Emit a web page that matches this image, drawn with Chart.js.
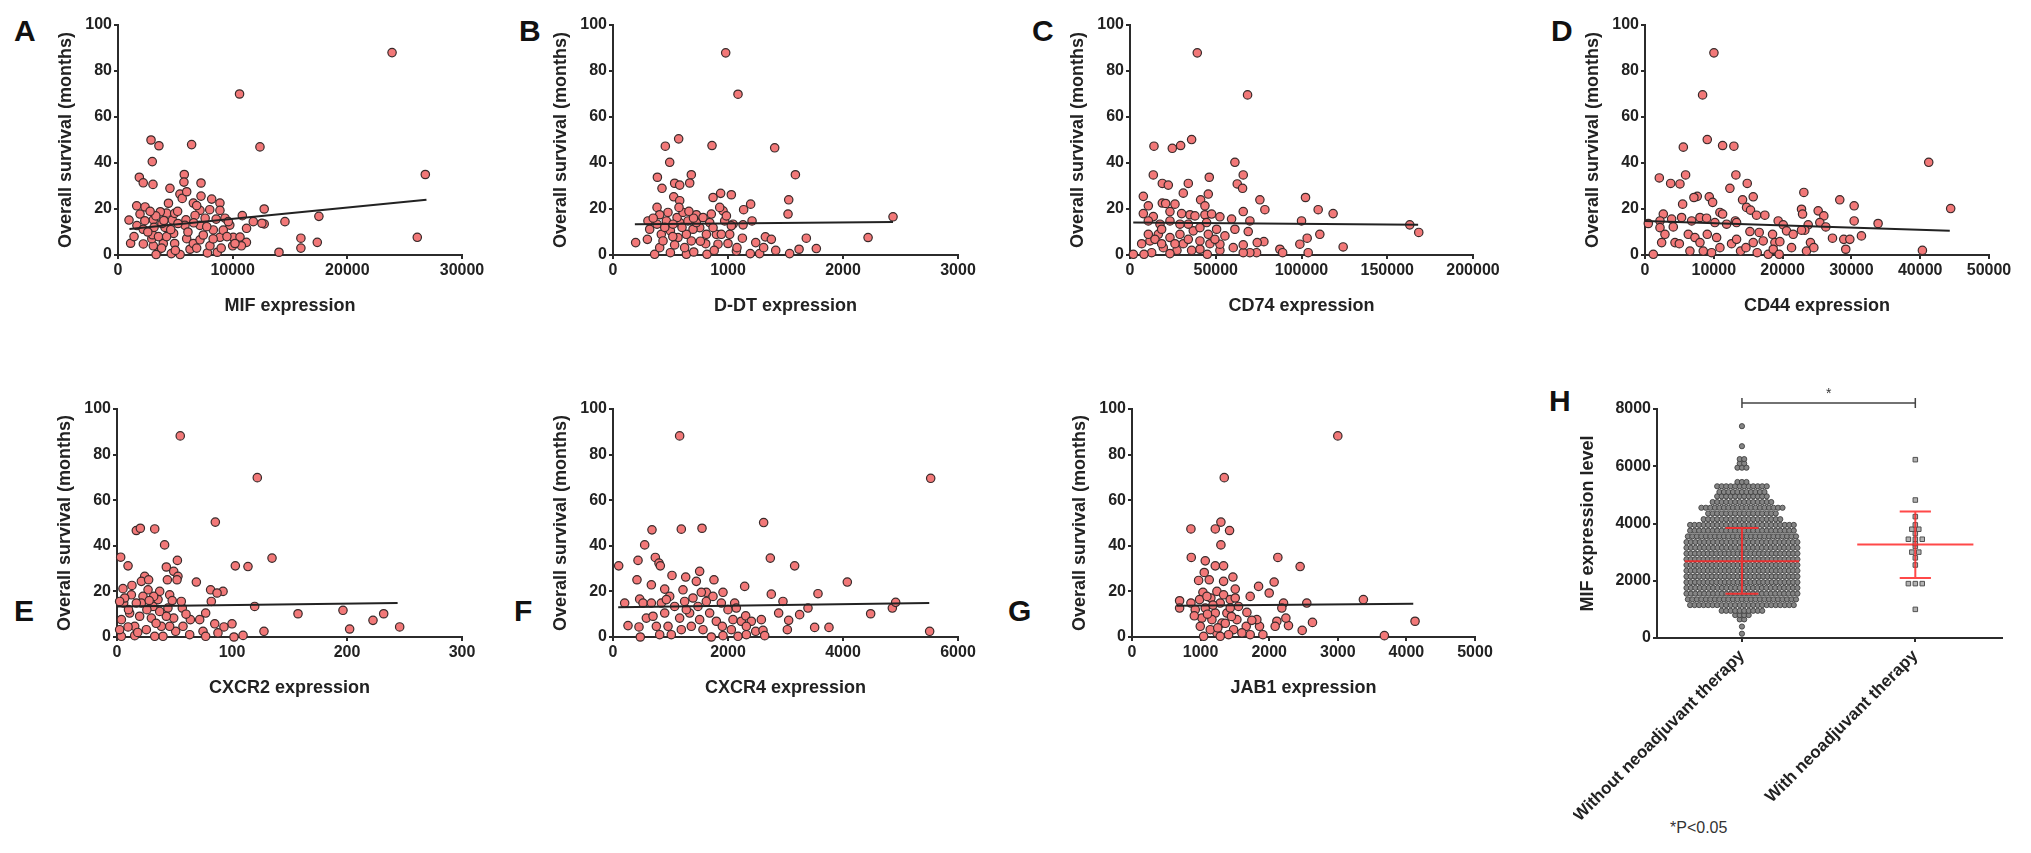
<!DOCTYPE html>
<html>
<head>
<meta charset="utf-8">
<script src="https://cdn.jsdelivr.net/npm/chart.js@4.4.0/dist/chart.umd.min.js"></script>
<style>
  html, body { margin: 0; padding: 0; background: #fff; }
  body { width: 2031px; height: 853px; position: relative; overflow: hidden; font-family: "Liberation Sans", Arial, sans-serif; }
  .panel { position: absolute; }
  .letter { position: absolute; font-weight: bold; font-size: 30px; line-height: 30px; color: #111; }
  .note { position: absolute; font-size: 16px; line-height: 16px; color: #333; }
</style>
</head>
<body>
<div class="letter" style="left:14px;top:16px">A</div>
<div class="letter" style="left:519px;top:16px">B</div>
<div class="letter" style="left:1032px;top:16px">C</div>
<div class="letter" style="left:1551px;top:16px">D</div>
<div class="letter" style="left:14px;top:596px">E</div>
<div class="letter" style="left:514px;top:596px">F</div>
<div class="letter" style="left:1008px;top:596px">G</div>
<div class="letter" style="left:1549px;top:386px">H</div>
<div class="note" style="left:1670px;top:820px">*P&lt;0.05</div>

<div class="panel" id="pA"><canvas id="cA"></canvas></div>
<div class="panel" id="pB"><canvas id="cB"></canvas></div>
<div class="panel" id="pC"><canvas id="cC"></canvas></div>
<div class="panel" id="pD"><canvas id="cD"></canvas></div>
<div class="panel" id="pE"><canvas id="cE"></canvas></div>
<div class="panel" id="pF"><canvas id="cF"></canvas></div>
<div class="panel" id="pG"><canvas id="cG"></canvas></div>
<div class="panel" id="pH"><canvas id="cH"></canvas></div>

<script>
// ---- data ----
// survival (months) against expression, one [x, y] per patient
const mifPoints = [[23900,88],[10600,70],[2880,50],[3570,47.5],[6420,48],[12380,47],[2990,40.6],[1860,33.8],[2200,31.4],[3050,30.7],
  [5780,35],[5750,31.7],[4530,29],[7240,31.3],[5400,26.5],[5600,24.6],[7240,25.6],[8170,24.3],[8890,22.6],[6570,22.6],
  [8000,19.7],[12750,20],[17520,16.8],[14560,14.5],[1630,21.4],[2360,20.9],[960,15.2],[10840,17.1],[11800,14.5],[12750,13.5],
  [9750,13],[26800,35],[26100,7.7],[15950,7.3],[15950,3],[14040,1.2],[17380,5.5],[12550,13.8],[10050,7.7],[10640,7.8],
  [11200,5.5],[10760,4],[10000,4],[8890,19.4],[8890,7.7],[8660,1.2],[7800,0.9],[8020,4],[8310,10.9],[8560,15.6],
  [7150,19.4],[7150,12.9],[6720,17.2],[6860,21.5],[5990,27.5],[5930,15.3],[5840,12.9],[5990,7.1],[6280,2.5],[5420,0.2],
  [4940,5],[4650,0.6],[4850,9.4],[4740,15.2],[4240,18.2],[4100,12],[3950,5],[3530,2.2],[3320,0.2],[3080,4],
  [2950,7.1],[3020,8.8],[3080,15.3],[3140,12],[2210,4.8],[1920,17.8],[2340,14.9],[1650,12.8],[1100,5.1],[4400,22.5],
  [4940,18.1],[5230,13.7],[3690,18.8],[3830,13.7],[2200,11.2],[3530,8],[4240,8],[6570,5],[7150,6.6],[6860,3],
  [7440,8.7],[7740,12.3],[9330,16],[9620,14.5],[9180,10.8],[10200,5],[11210,11.6],[2600,10],[3300,17],[4600,11],
  [5200,19],[6100,10],[6600,14],[7600,16],[8300,7],[9000,3],[9500,8],[4000,15],[2800,19],[1400,8],[3800,3],[5000,2]];
const ddtPoints = [[980,87.9],[1087,69.9],[571,50.5],[455,47.3],[861,47.6],[1406,46.6],[493,40.3],[386,33.8],[1586,34.9],[681,34.9],
  [667,31.3],[536,31.2],[580,30.4],[426,29],[870,25],[936,26.8],[1029,26.2],[528,25.3],[580,23.6],[1528,24],
  [1197,22.1],[1136,19.7],[383,20.7],[1522,17.8],[2435,16.6],[957,19.2],[928,20.7],[1209,14.8],[725,17.5],[197,5.4],
  [304,14.8],[319,11.2],[299,6.8],[362,0.3],[406,3.2],[499,1],[638,0.3],[817,0.3],[702,1.3],[1073,1.7],
  [1194,0.6],[1275,0.6],[1415,2],[1536,0.6],[1618,2.5],[1768,2.8],[1681,7.3],[2218,7.6],[1325,7.9],[1377,6.8],
  [1241,5.4],[1125,7.3],[1015,9],[1078,3.2],[1310,3.2],[1131,13.1],[1044,13.4],[899,9],[913,4.7],[806,4.9],
  [812,9],[754,11.9],[696,11.2],[681,6.1],[623,3.2],[638,9],[565,7.6],[536,4.4],[499,10.5],[464,14.8],
  [478,18.5],[406,17.5],[383,13.4],[420,9],[435,6.1],[580,14.1],[557,16.3],[609,18.5],[574,20.7],[652,14.8],
  [725,14.1],[841,14.1],[855,17.8],[971,14.8],[1029,12.7],[942,9],[870,11.9],[783,16.3],[986,17],[522,13.4],
  [450,12],[700,16],[760,6],[880,2],[600,12],[350,16],[1000,5],[520,8],[660,19]];
const cd74Points = [[39230,87.9],[68550,69.6],[35930,50.2],[13980,47.3],[24660,46.4],[29520,47.6],[61170,40.3],[13590,34.8],[46220,33.8],[66030,34.8],
  [62540,30.9],[65640,29],[18840,31.1],[22330,30.4],[33990,31.1],[31070,26.9],[45640,26.5],[7770,25.5],[75740,24],[102340,25],
  [41170,24],[43690,21.4],[18840,22.6],[20780,22.4],[26220,22.1],[10680,21.4],[78650,19.7],[109720,19.7],[118430,18],[66030,18.9],
  [23300,18.9],[7770,18],[13590,16.7],[34950,17.5],[30100,18],[43690,17.5],[52430,16.6],[59230,15.6],[69910,14.8],[100010,14.8],
  [163130,13.1],[168370,9.8],[110690,9],[103310,7.3],[99040,4.7],[124290,3.5],[103890,1],[87390,2.5],[89000,1],[78070,5.8],
  [74180,5.4],[73790,1],[69910,1],[66030,1],[66030,4.4],[68940,10.2],[61170,11.2],[60200,3.2],[52430,2],[52430,4.7],
  [46610,4.9],[45050,0.3],[40780,2.5],[35930,2],[31070,4.9],[27380,2],[23300,0.6],[19420,3.2],[12620,1],[8160,0.3],
  [1940,0.3],[6800,4.9],[11650,6.1],[10680,9],[16510,9],[14560,6.8],[18450,4.9],[23300,7.6],[26220,4.9],[29130,9],
  [33990,6.8],[36900,10.5],[40780,6.1],[45640,9],[50490,11.2],[49520,6.8],[55350,8.3],[33990,13.4],[29130,13.4],[23300,14.8],
  [17480,13.4],[10680,14.8],[18450,11.2],[44660,14.1],[47580,17.8],[37870,17],[40780,11.9]];
const cd44Points = [[10020,87.9],[8370,69.6],[9050,50.2],[5570,46.9],[11280,47.6],[12920,47.3],[41240,40.3],[2080,33.5],[3730,31.1],[5080,30.9],
  [5900,34.8],[13210,34.8],[14860,31.1],[12340,29],[7600,25.5],[7110,25],[9340,25.3],[9830,22.9],[5470,22.1],[14180,24],
  [15730,25.3],[23090,27.2],[28310,24],[30400,21.4],[44430,20.2],[22750,19.9],[22900,17.8],[25170,19.2],[25990,17],[14760,20.7],
  [15340,19.5],[16210,17.3],[17420,17.3],[10890,18.5],[11280,17.8],[2660,17.8],[2180,14.8],[480,13.7],[3870,15.6],[5320,16.3],
  [6780,14.8],[7990,16.3],[8950,16],[10160,14.1],[11860,13.4],[13130,14.8],[19360,14.8],[20090,13.1],[23720,13.1],[23230,10.8],
  [25410,14.1],[26280,12.2],[30400,14.8],[33880,13.7],[31460,8.3],[27250,7.3],[28890,6.8],[29770,6.8],[29180,2.5],[40320,2],
  [2180,11.9],[2420,5.4],[2900,9],[1210,0.3],[4110,12.2],[4360,5.4],[4990,4.9],[6290,9],[6530,1.7],[7260,7.6],
  [7990,5.4],[8470,1.7],[9050,9],[9680,1],[10410,7.6],[10890,3.2],[12580,4.9],[13310,6.8],[13890,1.7],[14670,3.2],
  [15250,10.2],[15730,5.4],[16600,9.8],[16310,1],[17180,6.1],[17910,0.3],[18540,9],[18880,5.4],[18640,2.5],[19500,0.3],
  [19600,5.8],[20570,10.5],[21300,3.2],[21540,9],[22750,10.8],[23470,1.7],[24050,5.4],[24540,3.2],[13310,14.1]];
const cxcr2Points = [[55,88.2],[122,69.9],[85.5,50.4],[16.8,46.7],[20.3,47.7],[32.8,47.4],[41.4,40.4],[3.2,35],[134.8,34.6],[9.6,31.2],
  [102.9,31.2],[113.9,30.9],[52.5,33.6],[42.9,30.7],[49.3,28.8],[53,26.6],[52.2,25.1],[43.8,25.1],[69,24.1],[24.1,26.6],
  [21.2,24.4],[27.5,25.1],[13,22.6],[5.2,21.2],[81.4,20.7],[92.2,20],[87,19.3],[82,15.6],[119.7,13.4],[157.4,10.2],
  [196.5,11.7],[231.9,10.2],[222.6,7.3],[245.8,4.4],[202.3,3.5],[127.8,2.5],[109.6,0.7],[101.7,0],[100,5.8],[93,4.4],
  [87.8,1.8],[85,5.8],[77.1,10.5],[74.8,2.5],[77.1,0.3],[71.9,7.6],[63.8,7.6],[63.2,1],[57.4,4.7],[56.8,12.7],
  [55.9,15.6],[51,2.5],[49.3,8.3],[45.8,18.5],[44.3,12.7],[42.9,9.1],[45.8,4.7],[40,0.3],[37.1,20],[35.7,16.4],
  [37.1,11.2],[38.6,4.7],[32.8,0.3],[31.9,17.8],[31.3,13.4],[29.9,8.3],[25.5,3.2],[27,20.7],[22.6,17.8],[21.2,14.9],
  [19.7,9.1],[16.8,14.9],[15.4,4.7],[15.4,0.6],[12.5,18.5],[11,10.5],[9.6,4.4],[5.8,14.9],[3.8,7.6],[3.8,0.3],
  [2.3,3.2],[6.7,17.1],[2.3,15.6],[26,12],[34,6],[18,2],[60,10],[48,16],[10,12],[28,16]];
const cxcr4Points = [[1159,88.2],[5525,69.6],[2620,50.2],[678,47],[1188,47.3],[1548,47.7],[551,40.4],[435,33.6],[736,34.9],[800,32.4],
  [823,31.2],[99,31.2],[2736,34.6],[3159,31.2],[1026,27],[1264,26.3],[1507,28.8],[417,25.1],[1449,24.4],[1756,25.1],
  [667,22.9],[4075,24.1],[2290,22.2],[899,21],[1623,19.6],[1913,19.6],[2753,18.8],[3565,19],[1536,19.6],[2956,15.6],
  [3391,12.7],[3246,9.8],[2881,10.5],[3055,7.3],[3032,3.2],[3507,4.2],[3756,4.2],[4481,10.2],[4858,12.7],[4916,15.2],
  [5507,2.5],[203,14.9],[261,5],[464,16.6],[452,4.4],[475,0],[522,14.9],[580,8.3],[667,14.9],[696,9.1],
  [754,4.7],[812,1],[841,14.9],[899,10.5],[957,4.7],[1014,1],[986,17.8],[1072,13.4],[1159,8.3],[1188,3.2],
  [1246,15.6],[1333,10.5],[1362,4.7],[1391,17.1],[1478,13.4],[1507,7.6],[1565,3.2],[1623,15.6],[1681,10.5],[1710,0],
  [1739,17.8],[1797,6.9],[1884,14.9],[1901,4.7],[1913,0.6],[2000,12],[2058,3.2],[2087,7.6],[2116,14.9],[2145,12.7],
  [2174,0.3],[2232,6.9],[2307,9.3],[2319,1],[2406,6.9],[2481,2.5],[2580,7.6],[2609,2.9],[2638,0.6],[2319,4.7],
  [1217,20.7],[928,16.4],[1275,12]];
const jab1Points = [[3000,88.2],[1345,69.9],[1296,50.4],[859,47.4],[1214,47.4],[1422,46.7],[1296,40.4],[864,34.9],[2126,34.9],[1068,33.4],
  [1214,31.2],[1335,31.2],[2451,30.9],[1053,28.3],[1471,26.3],[971,24.8],[1126,25.1],[1335,24.4],[2072,24.1],[2000,19.3],
  [1845,22.2],[1505,21],[1034,19.6],[1723,17.8],[694,15.9],[859,14.9],[1150,17.1],[2209,14.9],[2548,14.9],[3373,16.4],
  [4126,6.9],[3679,0.6],[2631,6.4],[2481,2.9],[2281,5],[2243,8.3],[2112,6.9],[2087,4.7],[2184,12.7],[1859,4.7],
  [1908,1],[1820,7.6],[1723,1],[1665,4.7],[1675,10.8],[1553,13.4],[1529,7.6],[1481,3.2],[1408,1],[1383,10.5],
  [1311,6.1],[1286,14.9],[1238,1.8],[1214,10.5],[1165,7.6],[1141,3.2],[1068,12.7],[1044,0.3],[1019,8.3],[995,4.7],
  [985,16.4],[922,12],[908,9.3],[694,12.7],[1238,20],[1335,18.5],[1432,16.4],[1505,17.1],[1286,0.3],[1602,1.8],
  [1747,7.3],[1092,17.8],[1432,12.7],[1180,14],[1360,6],[1450,9],[1100,10],[1250,4]];

// fitted regression lines: [xStart, yStart, xEnd, yEnd]
const mifFit = [1000, 11.3, 26900, 24];
const ddtFit = [190, 13.4, 2435, 14.4];
const cd74Fit = [1900, 14.1, 168000, 13.1];
const cd44Fit = [0, 14.8, 44300, 10.5];
const cxcr2Fit = [0, 13.4, 244, 14.9];
const cxcr4Fit = [90, 13.1, 5500, 14.9];
const jab1Fit = [650, 13.7, 4100, 14.6];

// axis ranges: [max, step]
const survivalAxis = [100, 20];
const mifAxis = [30000, 10000];
const ddtAxis = [3000, 1000];
const cd74Axis = [200000, 50000];
const cd44Axis = [50000, 10000];
const cxcr2Axis = [300, 100];
const cxcr4Axis = [6000, 2000];
const jab1Axis = [5000, 1000];

// panel H: MIF expression by neoadjuvant therapy (rows of the dot plot: level -> count)
const groupNames = ['Without neoadjuvant therapy', 'With neoadjuvant therapy'];
const withoutLevels = [150, 400, 650, 800, 950, 1150, 1350, 1550, 1750, 1950, 2150, 2350, 2550, 2750, 2950, 3150, 3350, 3550, 3750, 3950,
  4150, 4350, 4550, 4750, 4950, 5100, 5300, 5450, 5950, 6100, 6250, 6700, 7400];
const withoutCounts = [1, 1, 2, 4, 10, 24, 25, 26, 26, 27, 27, 27, 27, 27, 27, 26, 26, 25, 24, 24,
  18, 16, 19, 14, 12, 11, 12, 3, 3, 2, 2, 1, 1];
const withLevels = [1000, 1900, 2550, 2800, 3000, 3200, 3300, 3450, 3650, 3800, 3950, 4240, 4820, 6230];
const withCounts = [1, 3, 1, 1, 2, 1, 1, 3, 1, 2, 1, 1, 1, 1];
const groupMean = [2680, 3270];
const groupSdLow = [1550, 2100];
const groupSdHigh = [3840, 4420];
const mifLevelAxis = [8000, 2000];

// ---- drawing ----
Chart.defaults.font.family = '"Liberation Sans", Arial, sans-serif';
Chart.defaults.color = '#222';
Chart.defaults.animation = false;

const ink = '#2b2b2b';

function place(id, plot, yW, xH, padTop, padRight) {
  const d = document.getElementById(id);
  d.style.left = (plot[0] - yW) + 'px';
  d.style.top = (plot[1] - padTop) + 'px';
  d.style.width = (yW + plot[2] - plot[0] + padRight) + 'px';
  d.style.height = (padTop + plot[3] - plot[1] + xH) + 'px';
}

function axis(pos, range, title, size) {
  return {
    type: 'linear', position: pos, min: 0, max: range[0],
    border: { display: true, color: ink, width: 2 },
    grid: { display: true, drawOnChartArea: false, drawTicks: true, tickLength: 4, color: ink, lineWidth: 2 },
    ticks: { stepSize: range[1], font: { size: 16, weight: 'bold' }, color: '#222', padding: 2, maxRotation: 0,
      callback: v => String(v) },
    title: { display: !!title, text: title, font: { size: 18, weight: 'bold' }, color: '#222', padding: { top: 4, bottom: 4 } },
    afterFit: pos === 'left'
      ? s => { s.width = size; s.paddingTop = 0; s.paddingBottom = 0; }
      : s => { s.height = size; s.paddingLeft = 0; s.paddingRight = 0; }
  };
}

function scatterPanel(key, plot, pts, fit, xRange, xTitle) {
  const yW = 67, xH = 66, padTop = 15, padRight = 32;
  place('p' + key, plot, yW, xH, padTop, padRight);
  new Chart(document.getElementById('c' + key), {
    type: 'scatter',
    data: {
      datasets: [
        { data: [{ x: fit[0], y: fit[1] }, { x: fit[2], y: fit[3] }], showLine: true, borderColor: '#222', borderWidth: 2, pointRadius: 0, order: 0 },
        { data: pts.map(p => ({ x: p[0], y: p[1] })), backgroundColor: '#f27878', borderColor: '#3a2a2a', borderWidth: 1.2, pointRadius: 4.2, order: 1, clip: false }
      ]
    },
    options: {
      responsive: true, maintainAspectRatio: false,
      layout: { padding: { left: 0, top: padTop, right: padRight, bottom: 0 } },
      plugins: { legend: { display: false }, tooltip: { enabled: false } },
      scales: {
        x: axis('bottom', xRange, xTitle, xH),
        y: axis('left', survivalAxis, 'Overall survival (months)', yW)
      }
    }
  });
}

scatterPanel('A', [118, 25, 462, 255], mifPoints, mifFit, mifAxis, 'MIF expression');
scatterPanel('B', [613, 25, 958, 255], ddtPoints, ddtFit, ddtAxis, 'D-DT expression');
scatterPanel('C', [1130, 25, 1473, 255], cd74Points, cd74Fit, cd74Axis, 'CD74 expression');
scatterPanel('D', [1645, 25, 1989, 255], cd44Points, cd44Fit, cd44Axis, 'CD44 expression');
scatterPanel('E', [117, 409, 462, 637], cxcr2Points, cxcr2Fit, cxcr2Axis, 'CXCR2 expression');
scatterPanel('F', [613, 409, 958, 637], cxcr4Points, cxcr4Fit, cxcr4Axis, 'CXCR4 expression');
scatterPanel('G', [1132, 409, 1475, 637], jab1Points, jab1Fit, jab1Axis, 'JAB1 expression');

// dot plot rows spread sideways around the group position
function swarm(levels, counts, center, gap, maxHalf) {
  const out = [];
  levels.forEach((lv, i) => {
    const n = counts[i];
    const step = n > 1 ? Math.min(gap, 2 * maxHalf / (n - 1)) : 0;
    for (let k = 0; k < n; k++) out.push({ x: center + (k - (n - 1) / 2) * step, y: lv });
  });
  return out;
}

function meanSd(g, halfMean, halfCap) {
  const c = g + 1;
  return [
    { x: c - halfMean, y: groupMean[g] }, { x: c + halfMean, y: groupMean[g] }, { x: c, y: null },
    { x: c, y: groupSdLow[g] }, { x: c, y: groupSdHigh[g] }, { x: c, y: null },
    { x: c - halfCap, y: groupSdLow[g] }, { x: c + halfCap, y: groupSdLow[g] }, { x: c, y: null },
    { x: c - halfCap, y: groupSdHigh[g] }, { x: c + halfCap, y: groupSdHigh[g] }
  ];
}

const bracketPlugin = {
  id: 'bracket',
  afterDatasetsDraw(chart) {
    const { ctx, scales: { x, y } } = chart;
    const yb = y.getPixelForValue(8210);
    const x1 = x.getPixelForValue(1), x2 = x.getPixelForValue(2);
    ctx.save();
    ctx.strokeStyle = '#444';
    ctx.lineWidth = 1.5;
    ctx.beginPath();
    ctx.moveTo(x1, yb); ctx.lineTo(x2, yb);
    ctx.moveTo(x1, yb - 5); ctx.lineTo(x1, yb + 5);
    ctx.moveTo(x2, yb - 5); ctx.lineTo(x2, yb + 5);
    ctx.stroke();
    ctx.fillStyle = '#333';
    ctx.font = '14px "Liberation Sans", Arial, sans-serif';
    ctx.textAlign = 'center';
    ctx.textBaseline = 'middle';
    ctx.fillText('*', x.getPixelForValue(1.5), yb - 9);
    ctx.restore();
  }
};

(function () {
  const plot = [1657, 409, 2002, 638];
  const yW = 84, xH = 215, padTop = 30, padRight = 29;
  place('pH', plot, yW, xH, padTop, padRight);
  const xAxis = axis('bottom', [2.5, 1], '', xH);
  xAxis.min = 0.51;
  xAxis.afterBuildTicks = s => { s.ticks = [{ value: 1 }, { value: 2 }]; };
  xAxis.ticks = { autoSkip: false, minRotation: 45, maxRotation: 45, padding: 4, color: '#222',
    font: { size: 17, weight: 'bold' }, callback: v => groupNames[v - 1] };
  const yAxis = axis('left', mifLevelAxis, 'MIF expression level', yW);
  new Chart(document.getElementById('cH'), {
    type: 'scatter',
    data: {
      datasets: [
        { data: meanSd(0, 0.33, 0.095), showLine: true, spanGaps: false, borderColor: 'rgba(255,40,40,0.85)', borderWidth: 2, pointRadius: 0, order: 0 },
        { data: meanSd(1, 0.335, 0.09), showLine: true, spanGaps: false, borderColor: 'rgba(255,40,40,0.85)', borderWidth: 2, pointRadius: 0, order: 0 },
        { data: swarm(withoutLevels, withoutCounts, 1, 0.026, 0.32), backgroundColor: '#858585', borderColor: '#404040', borderWidth: 0.9, pointRadius: 2.6, order: 1, clip: false },
        { data: swarm(withLevels, withCounts, 2, 0.04, 0.2), pointStyle: 'rect', backgroundColor: '#b3b3b3', borderColor: '#505050', borderWidth: 1, pointRadius: 3.2, order: 1, clip: false }
      ]
    },
    options: {
      responsive: true, maintainAspectRatio: false,
      layout: { padding: { left: 0, top: padTop, right: padRight, bottom: 0 } },
      plugins: { legend: { display: false }, tooltip: { enabled: false } },
      scales: { x: xAxis, y: yAxis }
    },
    plugins: [bracketPlugin]
  });
})();
</script>
</body>
</html>
